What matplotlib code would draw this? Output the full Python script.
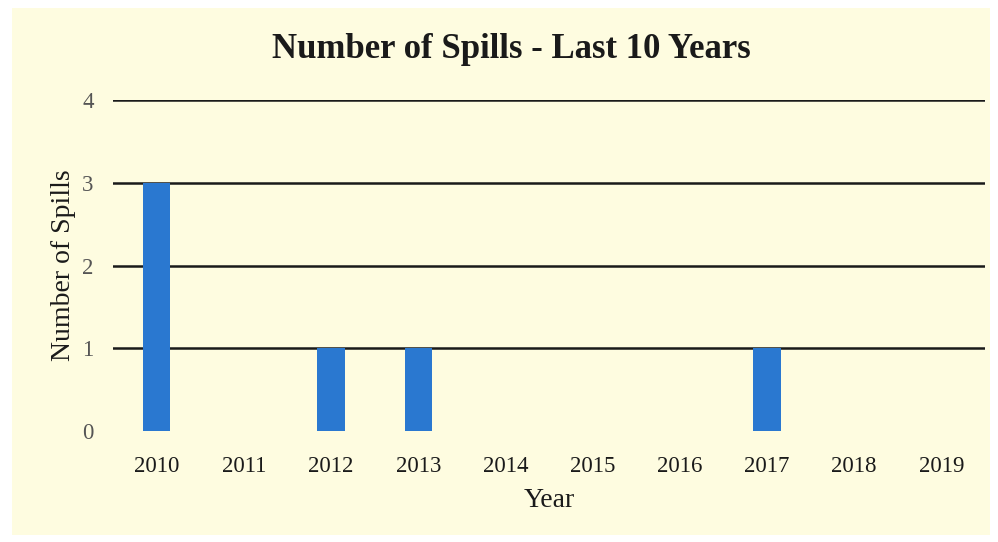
import matplotlib
matplotlib.use("Agg")
import matplotlib.pyplot as plt

years = ["2010", "2011", "2012", "2013", "2014", "2015", "2016", "2017", "2018", "2019"]
spills = [3, 0, 1, 1, 0, 0, 0, 1, 0, 0]
yticks = [0, 1, 2, 3, 4]

plt.rcParams["font.family"] = ["Liberation Serif", "DejaVu Serif"]

fig = plt.figure(figsize=(9.98, 5.42), dpi=100)
fig.patch.set_facecolor("white")
bgax = fig.add_axes([12 / 998, 1 - 535 / 542, (990 - 12) / 998, (535 - 8) / 542], zorder=-10)
bgax.set_facecolor("#FEFCE0")
bgax.set_xticks([])
bgax.set_yticks([])
for s in bgax.spines.values():
    s.set_visible(False)

ax = fig.add_axes([113 / 998, 1 - 431 / 542, 872 / 998, 331 / 542], zorder=1)
ax.set_facecolor("none")
x = list(range(len(years)))
ax.bar(x, spills, width=0.31, color="#2A78D0", zorder=3)
ax.set_xlim(-0.5, len(years) - 0.5)
ax.set_ylim(0, 4)
ax.set_yticks(yticks)
ax.set_xticks(x)
ax.set_xticklabels(years)
for y in yticks[1:]:
    ax.axhline(y, color="#1a1a1a", linewidth=1.8, zorder=2)
for s in ax.spines.values():
    s.set_visible(False)
ax.tick_params(axis="both", length=0)
ax.tick_params(axis="x", labelsize=16.5, pad=18, labelcolor="#1a1a1a")
ax.tick_params(axis="y", labelsize=16.5, pad=14, labelcolor="#555555")
ax.set_xlabel("Year", fontsize=20, labelpad=8, color="#1a1a1a")
ax.set_ylabel("Number of Spills", fontsize=20, labelpad=4, color="#1a1a1a")
fig.text(0.512, 1 - 50 / 542, "Number of Spills - Last 10 Years", ha="center", va="center",
         fontsize=25, fontweight="bold", color="#1a1a1a")

fig.savefig("out.png", dpi=100)
